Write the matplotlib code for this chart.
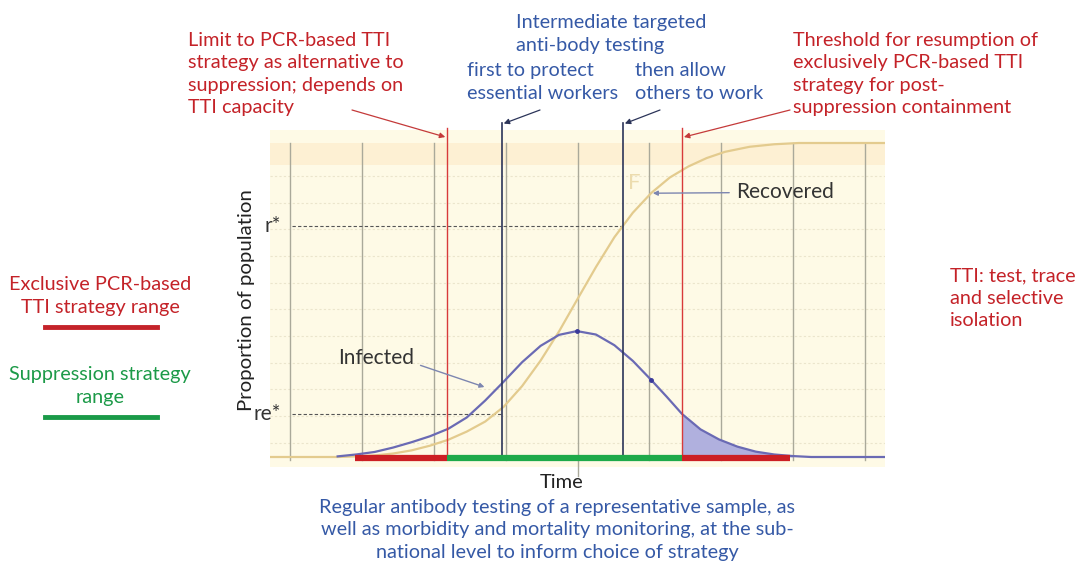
import matplotlib
matplotlib.use("Agg")
import matplotlib.pyplot as plt

W, H = 1078, 563

# time in arbitrary units (0..100), proportion of population (0..1)
f_t = [0, 11, 14, 17, 20, 23, 26, 29, 32, 35, 38, 41, 44, 47, 50, 53, 56,
       59, 62, 65, 68, 71, 74, 78, 82, 86, 100]
f_p = [0, 0, 0.002, 0.005, 0.011, 0.021, 0.036, 0.055, 0.081, 0.113, 0.160,
       0.226, 0.307, 0.400, 0.503, 0.605, 0.700, 0.778, 0.841, 0.890, 0.925,
       0.952, 0.972, 0.988, 0.996, 1.0, 1.0]

inf_t = [11, 14, 17, 20, 23, 26, 29, 32, 35, 38, 41, 44, 47, 49.9, 53, 56,
         59, 62, 64.5, 67, 70, 73, 76, 79, 82, 85, 88, 100]
inf_p = [0.002, 0.008, 0.016, 0.030, 0.047, 0.066, 0.090, 0.126, 0.180, 0.240,
         0.302, 0.354, 0.389, 0.401, 0.390, 0.356, 0.306, 0.245, 0.192, 0.137,
         0.088, 0.056, 0.033, 0.017, 0.008, 0.003, 0.0, 0.0]

grid_t = [3.3, 15.0, 26.6, 38.3, 50.0, 61.7, 73.3, 85.0, 96.7]
hgrid_p = [0.895, 0.809, 0.726, 0.640, 0.554, 0.471, 0.385, 0.299, 0.216, 0.13, 0.045]

t_limit, t_threshold = 28.8, 67.0          # red lines
t_first, t_then = 37.7, 57.4               # navy lines
r_star, re_star = 0.736, 0.137
t_red1 = (13.8, 28.8)
t_red2 = (67.0, 84.6)
t_green = (28.8, 67.0)
dot_t = [49.9, 62.0]
dot_p = [0.401, 0.245]

RED = "#c42228"
BLUE = "#3559a6"
GREEN = "#1c9a48"
NAVY = "#2b3459"
TAN = "#e3cb8e"
PURPLE = "#6a6ab4"

plt.rcParams["font.family"] = ["Lato", "DejaVu Sans"]

fig = plt.figure(figsize=(W / 100, H / 100), dpi=100)
ax = fig.add_axes([270 / W, 1 - 467 / H, 615 / W, 337 / H])
ax.set_xlim(0, 100)
ax.set_ylim(-10 / 314, 327 / 314)
ax.set_facecolor("#fefae6")
for s in ax.spines.values():
    s.set_visible(False)
ax.set_xticks([])
ax.set_yticks([])

# top band
ax.axhspan(0.93, 1.0, color="#fdf0d3", lw=0, zorder=0)
for p in hgrid_p:
    ax.axhline(p, color="#ebe5cc", lw=0.8, ls=(0, (2, 2)), zorder=1)
for t in grid_t:
    ax.plot([t, t], [-0.01, 1.0], color="#aaa99a", lw=1.0, zorder=2)
ax.plot([50.0, 50.0], [-0.01, -0.06], color="#aaa99a", lw=1.0, zorder=2, clip_on=False)

# dashed reference lines
ax.plot([3.6, t_then], [r_star, r_star], color="#555555", lw=0.8, ls=(0, (3, 2)), zorder=3)
ax.plot([3.6, t_first], [re_star, re_star], color="#555555", lw=0.8, ls=(0, (3, 2)), zorder=3)

# curves
seg_t = [t for t in inf_t if t_red2[0] <= t <= t_red2[1] + 0.5]
seg_p = [p for t, p in zip(inf_t, inf_p) if t_red2[0] <= t <= t_red2[1] + 0.5]
ax.fill_between(seg_t, seg_p, 0, color="#b0b0de", lw=0, zorder=3)
ax.plot(f_t, f_p, color=TAN, lw=1.6, zorder=4)
ax.plot(inf_t, inf_p, color=PURPLE, lw=1.6, zorder=5)
ax.plot(dot_t, dot_p, "o", color="#3a3a9a", ms=2.5, zorder=6)

# vertical strategy lines
for t in (t_limit, t_threshold):
    ax.plot([t, t], [0, 1.048], color="#d83a3a", lw=1.0, zorder=6, clip_on=False)
for t in (t_first, t_then):
    ax.plot([t, t], [0, 1.064], color=NAVY, lw=1.2, zorder=6, clip_on=False)

# strategy range bars
ax.plot(t_red1, [-0.004, -0.004], color="#cc1f24", lw=4.5, solid_capstyle="butt", zorder=7)
ax.plot(t_red2, [-0.004, -0.004], color="#cc1f24", lw=4.5, solid_capstyle="butt", zorder=7)
ax.plot(t_green, [-0.004, -0.004], color="#1eaa4a", lw=4.5, solid_capstyle="butt", zorder=7)

# in-chart labels
ax.text(59.2, 0.873, "F", color="#ecdcae", fontsize=16, ha="center", va="center", zorder=4)
ax.annotate("Recovered", xy=(61.8, 0.84), xytext=(75.8, 0.843), color="#333333",
            fontsize=15, ha="left", va="center", zorder=8,
            arrowprops=dict(arrowstyle="-|>", color="#7d86b0", lw=1.0, mutation_scale=7,
                            shrinkA=3))
ax.annotate("Infected", xy=(35.3, 0.22), xytext=(17.2, 0.315), color="#333333",
            fontsize=15, ha="center", va="center", zorder=8,
            arrowprops=dict(arrowstyle="-|>", color="#7d86b0", lw=1.0, mutation_scale=7,
                            relpos=(1.0, 0.25), shrinkA=3))
ax.text(1.8, r_star, "r*", color="#333333", fontsize=15, ha="right", va="center")
ax.text(1.8, re_star, "re*", color="#333333", fontsize=15, ha="right", va="center")
ax.text(-3.9, 0.50, "Proportion of population", color="#222222", fontsize=14.7,
        rotation=90, ha="center", va="center")
ax.text(47.5, -0.082, "Time", color="#222222", fontsize=14.5, ha="center", va="center")


def px(x, y):
    return x / W, 1 - y / H


def ftext(x, y, s, color, ha="left"):
    fig.text(*px(x, y), s, color=color, fontsize=14.3, ha=ha, va="center",
             linespacing=1.36)


ftext(188, 74, "Limit to PCR-based TTI\nstrategy as alternative to\nsuppression; depends on\nTTI capacity", RED)
ftext(516, 34, "Intermediate targeted\nanti-body testing", BLUE)
ftext(467, 82, "first to protect\nessential workers", BLUE)
ftext(635, 82, "then allow\nothers to work", BLUE)
ftext(793, 74, "Threshold for resumption of\nexclusively PCR-based TTI\nstrategy for post-\nsuppression containment", RED)
ftext(100, 296, "Exclusive PCR-based\nTTI strategy range", RED, ha="center")
ftext(100, 386, "Suppression strategy\nrange", GREEN, ha="center")
ftext(950, 298, "TTI: test, trace\nand selective\nisolation", RED)
ftext(557, 530, "Regular antibody testing of a representative sample, as\nwell as morbidity and mortality monitoring, at the sub-\nnational level to inform choice of strategy", BLUE, ha="center")

# legend-like bars on the left
fig.add_artist(plt.Line2D([45 / W, 157 / W], [1 - 327 / H] * 2, color="#c4232a", lw=3.5))
fig.add_artist(plt.Line2D([45 / W, 157 / W], [1 - 417 / H] * 2, color="#1a9a48", lw=3.5))

# arrows from the top notes to the strategy lines
arrow_specs = [((t_limit - 0.3, 1.019), (352, 110), "#c43a3a"),
               ((t_first + 0.3, 1.062), (540, 110), NAVY),
               ((t_then + 0.3, 1.062), (660, 110), NAVY),
               ((t_threshold + 0.3, 1.019), (790, 110), "#c43a3a")]
for xy, xyt, c in arrow_specs:
    ax.annotate("", xy=xy, xytext=px(*xyt), textcoords="figure fraction",
                arrowprops=dict(arrowstyle="-|>", color=c, lw=0.9, mutation_scale=8,
                                shrinkA=0, shrinkB=0), annotation_clip=False)

fig.savefig("out.png", dpi=100, facecolor="white")
